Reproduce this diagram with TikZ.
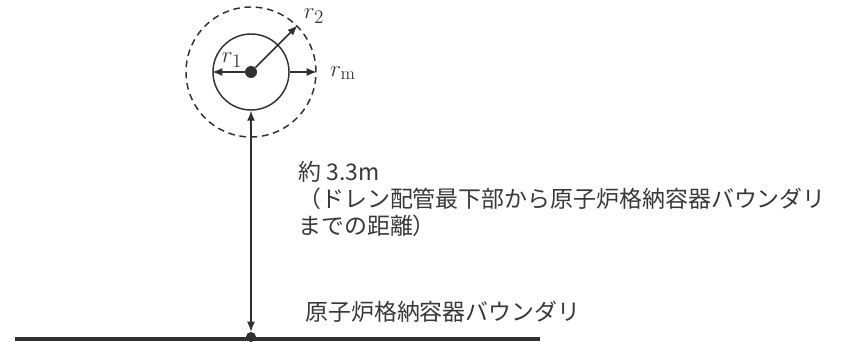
\documentclass[tikz,border=0pt]{standalone}
\usepackage{fontspec}
\newfontfamily\jp{Noto Sans CJK JP}
\usetikzlibrary{arrows.meta}
\definecolor{ink}{HTML}{303030}
\definecolor{txt}{HTML}{383838}
\begin{document}
\begin{tikzpicture}[x=0.75pt,y=-0.75pt,
  line/.style={draw=ink,line width=1.1pt},
  arr/.style={line,-{Latex[length=7.5pt,width=6pt]}},
  dbl/.style={line,{Latex[length=7.5pt,width=6pt]}-{Latex[length=7.5pt,width=6pt]}},
  dot/.style={circle,fill=ink,inner sep=0pt},
  jptext/.style={font=\jp\fontsize{17.2}{20}\selectfont,text=txt,inner sep=0pt,anchor=west},
  lab/.style={font=\fontsize{19}{22}\selectfont,text=txt,inner sep=0pt}]
\useasboundingbox (0,0) rectangle (848,342);
% circles
\node[dot,minimum size=9pt] (c) at (251,72) {};
\node[circle,line,minimum size=57pt,inner sep=0pt] (inner) at (251,72) {};
\node[circle,line,dashed,dash pattern=on 5pt off 3.5pt,minimum size=97.5pt,inner sep=0pt] (outer) at (251,72) {};
% bottom boundary
\coordinate (L) at (15,339);
\coordinate (R) at (540,339);
\draw[draw=ink,line width=3pt] (L) -- (R);
\node[dot,minimum size=7.5pt] (b) at (251,337) {};
% arrows
\draw[arr] (c) -- (inner.west);
\draw[arr] (c) -- (outer.45);
\draw[arr] (inner.east) -- (outer.east);
\draw[dbl] (inner.south) -- (b.north);
% labels
\node[lab] (r1) at (232,60) {$r_1$};
\node[lab] (r2) at (314,16) {$r_2$};
\node[lab] (rm) at (343,73) {$r_{\mathrm{m}}$};
\node[jptext] (t1) at (298,172) {約 3.3m};
\node[jptext] (t2) at (298,199) {（ドレン配管最下部から原子炉格納容器バウンダリ};
\node[jptext] (t3) at (298,226) {までの距離）};
\node[jptext] (t4) at (305,312) {原子炉格納容器バウンダリ};
\end{tikzpicture}
\end{document}
